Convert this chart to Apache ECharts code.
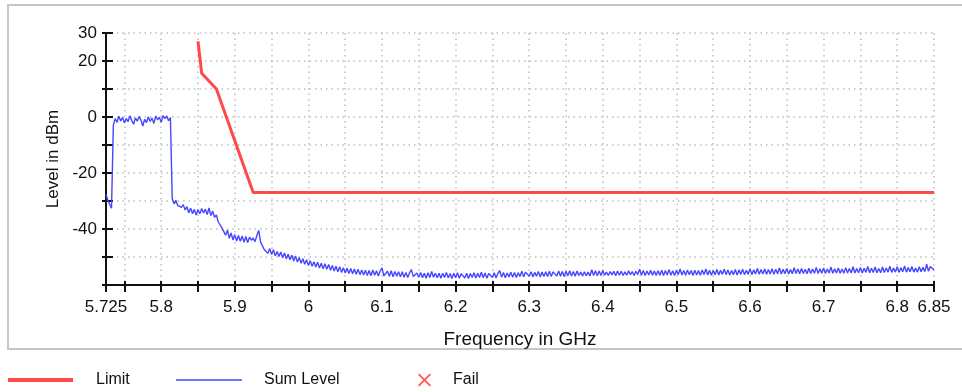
<!DOCTYPE html>
<html>
<head>
<meta charset="utf-8">
<script src="https://cdn.jsdelivr.net/npm/echarts@6/dist/echarts.min.js"></script>
<style>
html,body{margin:0;padding:0;background:#fff;}
#chart{width:962px;height:392px;}
</style>
</head>
<body>
<div id="chart"></div>
<script>
// ---- data ----
// Limit mask: [frequency GHz, level dBm]
const limitFreq = [5.85, 5.855, 5.875, 5.925, 6.85];
const limitLevel = [27, 15.6, 10, -27, -27];

// Sum Level sweep: uniform sweep from sweepStart with sweepStep (GHz)
const sweepStart = 5.725;
const sweepStep = 0.0025;
const sumLevel = [
  -27.6, -29.8, -30.4, -32.6, -2.8, -0.6, -1.9, 0.3, -1.4, -0.2, -2.1, -0.5, -1.7, 0.4, -1.2, -2.6, -0.3, -1.5, 0.2, -1.1,
  -3.2, -0.8, -2.0, 0.1, -1.6, -0.4, -2.3, 0.3, -1.0, -0.1, -1.9, 0.5, -0.6, 0.4, -1.3, -0.2, -29.2, -31.0, -29.8, -31.6,
  -30.9, -32.3, -31.3, -33.2, -32.0, -34.2, -32.6, -34.5, -33.0, -35.0, -33.1, -34.6, -32.7, -34.3, -32.9, -34.8, -32.5, -35.2, -33.6, -35.8,
  -35.0, -37.5, -37.6, -39.6, -39.4, -42.2, -40.4, -43.3, -41.4, -43.9, -42.0, -44.3, -42.3, -44.4, -42.5, -44.7, -42.7, -44.8, -42.9, -44.0,
  -43.2, -44.5, -42.3, -40.5, -44.6, -44.4, -47.3, -46.6, -48.7, -47.0, -49.1, -47.4, -49.6, -48.0, -49.8, -48.2, -50.3, -48.6, -50.6, -49.0,
  -51.0, -49.4, -51.4, -49.6, -51.8, -50.2, -52.2, -50.6, -52.6, -51.0, -53.0, -51.3, -53.3, -51.7, -53.6, -51.9, -53.9, -52.2, -54.2, -52.4,
  -54.4, -52.7, -54.7, -53.0, -55.0, -53.3, -55.3, -53.5, -55.5, -53.8, -55.7, -54.0, -55.9, -54.1, -56.0, -54.3, -56.2, -54.4, -56.3, -54.6,
  -56.4, -54.7, -56.6, -54.8, -56.7, -54.6, -56.5, -54.9, -56.8, -55.0, -53.9, -56.7, -57.0, -55.1, -56.9, -54.9, -57.1, -55.2, -56.9, -55.3,
  -57.1, -55.3, -57.2, -55.5, -57.3, -55.6, -54.5, -57.0, -57.5, -55.7, -57.2, -55.5, -57.4, -55.8, -57.6, -55.6, -57.3, -55.2, -57.2, -55.8,
  -57.4, -55.8, -57.6, -55.8, -57.3, -55.5, -57.5, -55.9, -57.7, -55.8, -57.4, -55.6, -57.6, -56.0, -55.7, -57.5, -55.8, -57.7, -55.9, -57.3,
  -55.6, -57.5, -55.8, -57.3, -55.4, -57.4, -55.7, -57.6, -55.9, -55.5, -57.3, -55.6, -57.5, -55.8, -54.9, -57.2, -55.5, -57.4, -55.7, -57.1,
  -55.4, -57.2, -55.5, -57.3, -55.6, -57.0, -55.1, -57.1, -55.4, -54.8, -56.9, -55.3, -57.1, -55.5, -56.9, -55.2, -57.1, -55.4, -57.0, -55.3,
  -57.0, -55.1, -57.0, -55.3, -54.6, -56.8, -55.0, -56.9, -55.2, -57.0, -55.1, -56.7, -54.9, -56.8, -55.2, -56.9, -55.0, -56.6, -55.4, -56.8,
  -55.3, -56.7, -55.4, -56.8, -54.5, -56.6, -54.9, -56.7, -55.0, -56.6, -54.8, -56.5, -55.4, -56.6, -55.2, -56.4, -55.1, -56.7, -55.0, -56.5,
  -55.1, -56.6, -55.3, -56.5, -54.9, -56.3, -55.2, -56.6, -55.1, -56.3, -54.4, -56.5, -54.8, -56.6, -55.0, -56.4, -54.7, -56.5, -55.0, -56.6,
  -54.9, -56.5, -54.7, -56.6, -54.8, -56.4, -54.5, -56.5, -54.9, -56.6, -54.7, -56.3, -54.3, -56.4, -54.8, -56.5, -54.6, -56.3, -54.8, -56.6,
  -54.7, -56.4, -54.8, -56.5, -54.6, -56.3, -54.3, -56.4, -54.7, -56.5, -54.8, -56.3, -54.5, -56.4, -54.7, -56.2, -54.4, -56.3, -54.6, -56.4,
  -54.8, -56.3, -54.5, -56.4, -54.6, -56.2, -54.4, -56.3, -54.7, -56.2, -54.2, -56.3, -54.6, -56.1, -54.1, -56.2, -54.5, -56.1, -54.3, -56.2,
  -54.5, -56.1, -54.2, -56.2, -54.4, -56.0, -53.9, -56.1, -54.4, -56.0, -54.1, -56.1, -54.5, -56.0, -53.8, -55.9, -54.3, -56.0, -54.1, -55.9,
  -54.4, -56.0, -54.0, -55.9, -54.3, -55.8, -53.7, -55.9, -54.2, -55.8, -53.9, -55.9, -54.3, -55.7, -53.6, -55.8, -54.2, -55.7, -53.9, -55.8,
  -54.3, -55.8, -53.8, -55.7, -54.1, -55.7, -53.5, -55.7, -54.1, -55.6, -53.7, -55.7, -54.0, -55.5, -53.4, -55.6, -54.0, -55.5, -53.6, -55.6,
  -54.1, -55.6, -53.6, -55.5, -53.9, -55.4, -53.3, -55.5, -53.9, -55.4, -53.5, -55.5, -53.8, -55.3, -53.2, -55.4, -53.8, -55.3, -53.4, -55.4,
  -53.9, -55.4, -53.5, -55.3, -53.7, -55.2, -52.6, -55.1, -53.4, -52.7, -54.6
];

// Fail markers (none)
const failPoints = [];

// axis ticks / labels
const xTickValues = [5.725, 5.75, 5.8, 5.85, 5.9, 5.95, 6, 6.05, 6.1, 6.15, 6.2, 6.25, 6.3, 6.35, 6.4, 6.45, 6.5, 6.55, 6.6, 6.65, 6.7, 6.75, 6.8, 6.85];
const xLabelValues = [5.725, 5.8, 5.9, 6, 6.1, 6.2, 6.3, 6.4, 6.5, 6.6, 6.7, 6.8, 6.85];
const yLabelValues = [30, 20, 0, -20, -40];
const xMin = 5.725, xMax = 6.85, yMin = -60, yMax = 30, yInterval = 10;

// ---- build ----
const limitData = limitFreq.map((f, i) => [f, limitLevel[i]]);
const sumData = sumLevel.map((v, i) => [+(sweepStart + i * sweepStep).toFixed(4), v]);

const FONT = 'Liberation Sans, Arial, sans-serif';
const gridStyle = { color: '#bdbdbd', width: 1.5, type: [1.5, 4] };
const XICON = 'path://M0,1L1,0L5,4L9,0L10,1L6,5L10,9L9,10L5,6L1,10L0,9L4,5Z';

const chart = echarts.init(document.getElementById('chart'), null, { renderer: 'canvas' });
chart.setOption({
  animation: false,
  backgroundColor: '#fff',
  graphic: [{
    type: 'rect', silent: true, z: -10,
    shape: { x: 8, y: 5, width: 980, height: 344 },
    style: { fill: 'none', stroke: '#c6c6c6', lineWidth: 2 }
  }],
  grid: { left: 106, right: 28, top: 33, bottom: 107 },
  xAxis: [{
    type: 'value', min: xMin, max: xMax,
    name: 'Frequency in GHz', nameLocation: 'middle', nameGap: 45,
    nameTextStyle: { fontFamily: FONT, fontSize: 19, color: '#111' },
    axisLine: { show: true, onZero: false, lineStyle: { color: '#111', width: 2 } },
    axisTick: { show: true, inside: false, length: 7, customValues: xTickValues, lineStyle: { color: '#111', width: 2 } },
    axisLabel: { customValues: xLabelValues, margin: 14, fontFamily: FONT, fontSize: 17, color: '#111' },
    splitLine: { show: true, lineStyle: gridStyle }
  }, {
    type: 'value', min: xMin, max: xMax, position: 'bottom',
    axisLine: { show: false, onZero: false },
    axisTick: { show: true, inside: true, length: 4, customValues: xTickValues, lineStyle: { color: '#111', width: 2 } },
    axisLabel: { show: false }, splitLine: { show: false }
  }],
  yAxis: [{
    type: 'value', min: yMin, max: yMax, interval: yInterval,
    name: 'Level in dBm', nameLocation: 'middle', nameGap: 42,
    nameTextStyle: { fontFamily: FONT, fontSize: 17, color: '#111' },
    axisLine: { show: true, onZero: false, lineStyle: { color: '#111', width: 2 } },
    axisTick: { show: true, inside: false, length: 4, lineStyle: { color: '#111', width: 2 } },
    axisLabel: { customValues: yLabelValues, margin: 9, fontFamily: FONT, fontSize: 17, color: '#111' },
    splitLine: { show: true, lineStyle: gridStyle }
  }, {
    type: 'value', min: yMin, max: yMax, interval: yInterval, position: 'left',
    axisLine: { show: false, onZero: false },
    axisTick: { show: true, inside: true, length: 7, lineStyle: { color: '#111', width: 2 } },
    axisLabel: { show: false }, splitLine: { show: false }
  }],
  legend: [{
    left: 8, top: 369, padding: 0, itemWidth: 65, itemHeight: 4, icon: 'rect',
    data: ['Limit'],
    textStyle: { fontFamily: FONT, fontSize: 16, color: '#111', padding: [2, 0, 0, 18], lineHeight: 20 }
  }, {
    left: 176, top: 369, padding: 0, itemWidth: 66, itemHeight: 1.5, icon: 'rect',
    data: ['Sum Level'],
    textStyle: { fontFamily: FONT, fontSize: 16, color: '#111', padding: [2, 0, 0, 17], lineHeight: 20 }
  }, {
    left: 418, top: 369, padding: 0, itemWidth: 13, itemHeight: 13,
    icon: XICON,
    data: ['Fail'],
    textStyle: { fontFamily: FONT, fontSize: 16, color: '#111', padding: [2, 0, 0, 17], lineHeight: 20 }
  }],
  series: [{
    name: 'Sum Level', type: 'line', data: sumData,
    xAxisIndex: 0, yAxisIndex: 0,
    showSymbol: false, symbol: 'none',
    lineStyle: { color: '#4646ff', width: 1.4 },
    itemStyle: { color: '#4646ff' },
    z: 3
  }, {
    name: 'Limit', type: 'line', data: limitData,
    xAxisIndex: 0, yAxisIndex: 0,
    showSymbol: false, symbol: 'none',
    lineStyle: { color: '#ff4848', width: 3 },
    itemStyle: { color: '#ff4848' },
    z: 4
  }, {
    name: 'Fail', type: 'scatter', data: failPoints,
    xAxisIndex: 0, yAxisIndex: 0,
    symbol: XICON, symbolSize: 12,
    itemStyle: { color: '#ff3030' }
  }]
});
</script>
</body>
</html>
